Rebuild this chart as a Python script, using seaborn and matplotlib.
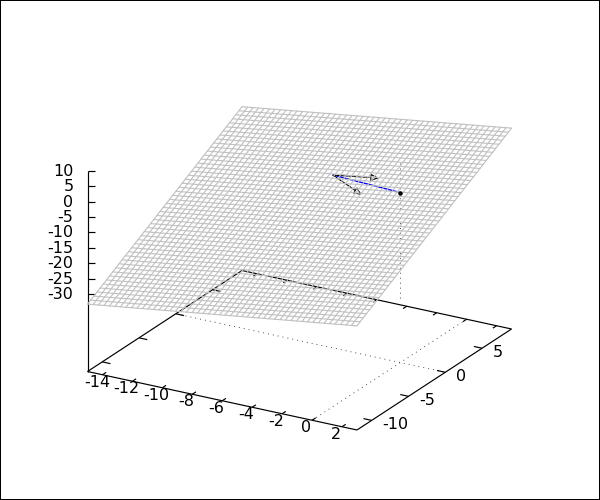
import numpy as np
import pandas as pd
import matplotlib
matplotlib.use("Agg")
import matplotlib.pyplot as plt
import seaborn as sns

# ranges and ticks
x_range = [-15, 3]
y_range = [-12, 9]
z_range = [-55, 10]
x_ticks = [-14, -12, -10, -8, -6, -4, -2, 0, 2]
y_ticks = [-10, -5, 0, 5]
z_ticks = [10, 5, 0, -5, -10, -15, -20, -25, -30]

# isolines of the surface
x_grid = [-15.00, -14.63, -14.27, -13.90, -13.53, -13.16, -12.80, -12.43, -12.06, -11.69,
          -11.33, -10.96, -10.59, -10.22, -9.86, -9.49, -9.12, -8.76, -8.39, -8.02,
          -7.65, -7.29, -6.92, -6.55, -6.18, -5.82, -5.45, -5.08, -4.71, -4.35,
          -3.98, -3.61, -3.24, -2.88, -2.51, -2.14, -1.78, -1.41, -1.04, -0.67,
          -0.31, 0.06, 0.43, 0.80, 1.16, 1.53, 1.90, 2.27, 2.63, 3.00]
y_grid = [-12.00, -11.57, -11.14, -10.71, -10.29, -9.86, -9.43, -9.00, -8.57, -8.14,
          -7.71, -7.29, -6.86, -6.43, -6.00, -5.57, -5.14, -4.71, -4.29, -3.86,
          -3.43, -3.00, -2.57, -2.14, -1.71, -1.29, -0.86, -0.43, 0.00, 0.43,
          0.86, 1.29, 1.71, 2.14, 2.57, 3.00, 3.43, 3.86, 4.29, 4.71,
          5.14, 5.57, 6.00, 6.43, 6.86, 7.29, 7.71, 8.14, 8.57, 9.00]

# surface height along the four edges
z_front = [-33.20, -32.96, -32.71, -32.47, -32.23, -31.99, -31.74, -31.50, -31.26, -31.01,
           -30.77, -30.53, -30.29, -30.04, -29.80, -29.56, -29.31, -29.07, -28.83, -28.59,
           -28.34, -28.10, -27.86, -27.61, -27.37, -27.13, -26.89, -26.64, -26.40, -26.16,
           -25.91, -25.67, -25.43, -25.19, -24.94, -24.70, -24.46, -24.21, -23.97, -23.73,
           -23.49, -23.24, -23.00, -22.76, -22.51, -22.27, -22.03, -21.79, -21.54, -21.30]
z_back = [-2.00, -1.76, -1.51, -1.27, -1.02, -0.78, -0.53, -0.29, -0.04, 0.20,
          0.45, 0.69, 0.94, 1.18, 1.43, 1.67, 1.92, 2.16, 2.41, 2.65,
          2.90, 3.14, 3.39, 3.63, 3.88, 4.12, 4.37, 4.61, 4.86, 5.10,
          5.35, 5.59, 5.84, 6.08, 6.33, 6.57, 6.82, 7.06, 7.31, 7.55,
          7.80, 8.04, 8.29, 8.53, 8.78, 9.02, 9.27, 9.51, 9.76, 10.00]
z_left = [-33.20, -32.56, -31.93, -31.29, -30.65, -30.02, -29.38, -28.74, -28.11, -27.47,
          -26.83, -26.20, -25.56, -24.92, -24.29, -23.65, -23.01, -22.38, -21.74, -21.10,
          -20.47, -19.83, -19.19, -18.56, -17.92, -17.28, -16.65, -16.01, -15.37, -14.74,
          -14.10, -13.46, -12.83, -12.19, -11.55, -10.92, -10.28, -9.64, -9.01, -8.37,
          -7.73, -7.10, -6.46, -5.82, -5.19, -4.55, -3.91, -3.28, -2.64, -2.00]
z_right = [-21.30, -20.66, -20.02, -19.38, -18.74, -18.11, -17.47, -16.83, -16.19, -15.55,
           -14.91, -14.27, -13.63, -12.99, -12.36, -11.72, -11.08, -10.44, -9.80, -9.16,
           -8.52, -7.88, -7.25, -6.61, -5.97, -5.33, -4.69, -4.05, -3.41, -2.77,
           -2.14, -1.50, -0.86, -0.22, 0.42, 1.06, 1.70, 2.34, 2.98, 3.62,
           4.25, 4.89, 5.53, 6.17, 6.81, 7.45, 8.09, 8.73, 9.36, 10.00]

# vectors from the origin
origin = [0, 0, 0]
blue_end = [-4.5, 0, 0.94]
arrow_tip_a = [-1.43, 0, 3.19]
arrow_tip_b = [-2.57, 0, -3.5]


def project(x, y, z):
    # gnuplot style view 60,30 onto the 600x500 canvas
    x, y, z = np.asarray(x, float), np.asarray(y, float), np.asarray(z, float)
    px = 87.5 + (x - x_range[0]) * 14.97 + (y - y_range[0]) * 7.36
    py = 371.5 + (x - x_range[0]) * 3.25 - (y - y_range[0]) * 4.81 - (z - z_range[0]) * 3.09
    return px, py


sns.set_theme(style="white")
plt.rcParams['font.family'] = ['DejaVu Sans']

fig = plt.figure(figsize=(6, 5), dpi=100)
ax = fig.add_axes([0, 0, 1, 1])
ax.set_xlim(0, 600)
ax.set_ylim(500, 0)
ax.set_xticks([])
ax.set_yticks([])
for s in ax.spines.values():
    s.set_color("black")
    s.set_linewidth(1.44)


def line3d(xs, ys, zs, **kw):
    px, py = project(xs, ys, zs)
    ax.plot(px, py, **kw)


axis_style = dict(color="black", lw=0.85, solid_capstyle="butt", zorder=1)
dot_style = dict(color="#333333", lw=0.65, dashes=(1, 4.5), zorder=1)
label_size = 11.5

zb = z_range[0]
# base frame
line3d(x_range, [y_range[0]] * 2, [zb] * 2, **axis_style)
line3d(x_range, [y_range[1]] * 2, [zb] * 2, **axis_style)
line3d([x_range[0]] * 2, y_range, [zb] * 2, **axis_style)
line3d([x_range[1]] * 2, y_range, [zb] * 2, **axis_style)
line3d([x_range[0]] * 2, [y_range[0]] * 2, [zb, z_range[1]], **axis_style)

# zero axes
line3d(x_range, [0, 0], [zb, zb], **dot_style)
line3d([0, 0], y_range, [zb, zb], **dot_style)
line3d([0, 0], [0, 0], [-34, z_range[1]], **dot_style)

# x ticks, front and back
for v in x_ticks:
    line3d([v, v], [y_range[0], y_range[0] + 0.5], [zb, zb], **axis_style)
    line3d([v, v], [y_range[1], y_range[1] - 0.5], [zb, zb], **axis_style)
    px, py = project(v, y_range[0], zb)
    ax.text(px - 5.6, py + 7.5, str(v), ha="center", va="center", fontsize=label_size, color="black")

# y ticks, right and left
for v in y_ticks:
    line3d([x_range[1], x_range[1] - 0.55], [v, v], [zb, zb], **axis_style)
    line3d([x_range[0], x_range[0] + 0.55], [v, v], [zb, zb], **axis_style)
    px, py = project(x_range[1], v, zb)
    ax.text(px + 10.5, py + 4.2, str(v), ha="left", va="center", fontsize=label_size, color="black")

# z ticks
for v in z_ticks:
    px, py = project(x_range[0], y_range[0], v)
    ax.plot([px, px + 7.7], [py, py], **axis_style)
    ax.text(px - 14, py + 0.5, str(v), ha="right", va="center", fontsize=label_size, color="black")

# vectors sit under the mesh, the point stays on top
ox, oy = project(*origin)
bx, by = project(*blue_end)
ax.plot([ox, bx], [oy, by], color="blue", lw=1.0, zorder=1.5)
for tip in [arrow_tip_a, arrow_tip_b]:
    tx, ty = project(*tip)
    ax.annotate("", xy=(tx, ty), xytext=(bx, by), zorder=1.5,
                arrowprops=dict(arrowstyle="-|>,head_length=0.4,head_width=0.18", fc="white",
                                ec="black", lw=0.85, ls=(0, (2.5, 1)), shrinkA=0, shrinkB=0))
ax.plot([ox], [oy], marker="o", ms=2.2, color="black", zorder=5)

# surface mesh
rows = []
for i, xv in enumerate(x_grid):
    px, py = project([xv, xv], y_range, [z_front[i], z_back[i]])
    rows.append(pd.DataFrame({"px": px, "py": py, "iso": f"x{i}"}))
for j, yv in enumerate(y_grid):
    px, py = project(x_range, [yv, yv], [z_left[j], z_right[j]])
    rows.append(pd.DataFrame({"px": px, "py": py, "iso": f"y{j}"}))
mesh = pd.concat(rows, ignore_index=True)
sns.lineplot(data=mesh, x="px", y="py", units="iso", estimator=None, sort=False,
             color="#c0c0c0", linewidth=0.8, legend=False, ax=ax, zorder=2)
ax.set_xlabel("")
ax.set_ylabel("")
ax.set_xlim(0, 600)
ax.set_ylim(500, 0)

fig.savefig("out.png", dpi=100)
